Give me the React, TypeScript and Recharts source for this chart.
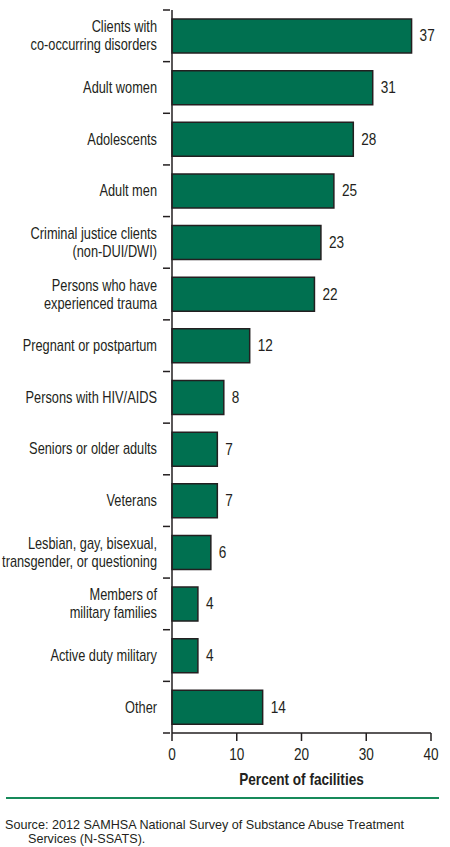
import React from 'react';
import { BarChart, Bar, XAxis, YAxis, LabelList } from 'recharts';

const categories = [
  'Clients with\nco-occurring disorders',
  'Adult women',
  'Adolescents',
  'Adult men',
  'Criminal justice clients\n(non-DUI/DWI)',
  'Persons who have\nexperienced trauma',
  'Pregnant or postpartum',
  'Persons with HIV/AIDS',
  'Seniors or older adults',
  'Veterans',
  'Lesbian, gay, bisexual,\ntransgender, or questioning',
  'Members of\nmilitary families',
  'Active duty military',
  'Other',
];
const percents = [37, 31, 28, 25, 23, 22, 12, 8, 7, 7, 6, 4, 4, 14];
const xTicks = [0, 10, 20, 30, 40];

const data = categories.map((name, i) => ({ name, value: percents[i] }));

const FONT = '"Liberation Sans", Arial, sans-serif';
const INK = '#231f20';
const SQUEEZE = 0.85; // fake a condensed face
const LABEL_SQUEEZE = 0.8;

// category label plus a small tick at the top edge of each band
const CategoryTick = (props: any) => {
  const { x, y, payload, index } = props;
  const half = payload && payload.offset ? payload.offset : 25.8;
  const lines = String(payload.value).split('\n');
  const axisX = x + 8;
  const start = -((lines.length - 1) * 18) / 2;
  return (
    <g>
      <line x1={axisX - 7} x2={axisX} y1={y - half} y2={y - half} stroke={INK} strokeWidth={1.5} />
      {index === categories.length - 1 && (
        <line x1={axisX - 7} x2={axisX} y1={y + half} y2={y + half} stroke={INK} strokeWidth={1.5} />
      )}
      <g transform={`translate(${x - 5},${y}) scale(${LABEL_SQUEEZE},1)`}>
        <text x={0} y={0} textAnchor="end" fontFamily={FONT} fontSize={16} fill={INK}>
          {lines.map((l, i) => (
            <tspan key={i} x={0} y={start + i * 18} dominantBaseline="central">
              {l}
            </tspan>
          ))}
        </text>
      </g>
    </g>
  );
};

const NumberTick = (props: any) => {
  const { x, y, payload } = props;
  return (
    <g transform={`translate(${x},${y + 12}) scale(${SQUEEZE},1)`}>
      <text x={0} y={0} textAnchor="middle" dominantBaseline="central" fontFamily={FONT} fontSize={16} fill={INK}>
        {payload.value}
      </text>
    </g>
  );
};

const ValueLabel = (props: any) => {
  const { x, y, width, height, value } = props;
  return (
    <g transform={`translate(${x + width + 8},${y + height / 2}) scale(${SQUEEZE},1)`}>
      <text x={0} y={0} textAnchor="start" dominantBaseline="central" fontFamily={FONT} fontSize={16} fill={INK}>
        {value}
      </text>
    </g>
  );
};

const AxisTitle = (props: any) => {
  const { viewBox } = props;
  const cx = viewBox.x + viewBox.width / 2;
  return (
    <g transform={`translate(${cx},${viewBox.y + 47}) scale(${SQUEEZE},1)`}>
      <text x={0} y={0} textAnchor="middle" dominantBaseline="central" fontFamily={FONT} fontSize={16} fontWeight="bold" fill={INK}>
        Percent of facilities
      </text>
    </g>
  );
};

export default function App() {
  return (
    <div style={{ position: 'relative', width: 450, height: 847, background: '#fff' }}>
      <style>{`body{margin:0}`}</style>
      <BarChart
        width={450}
        height={790}
        data={data}
        layout="vertical"
        margin={{ top: 10, right: 19, bottom: 0, left: 0 }}
      >
        <XAxis
          type="number"
          domain={[0, 40]}
          ticks={xTicks}
          height={57}
          stroke={INK}
          strokeWidth={1.5}
          tickSize={8}
          tick={<NumberTick />}
          label={<AxisTitle />}
        />
        <YAxis
          type="category"
          dataKey="name"
          width={172}
          stroke={INK}
          strokeWidth={1.5}
          tickLine={false}
          tickSize={8}
          tick={<CategoryTick />}
          interval={0}
        />
        <Bar dataKey="value" fill="#007050" stroke={INK} strokeWidth={1.5} barSize={34} isAnimationActive={false}>
          <LabelList dataKey="value" content={<ValueLabel />} />
        </Bar>
      </BarChart>
      <div style={{ position: 'absolute', left: 6, top: 797, width: 433, height: 2, background: '#178a5a' }} />
      <div
        style={{
          position: 'absolute',
          left: 5,
          top: 818,
          width: 410,
          boxSizing: 'border-box',
          paddingLeft: 23,
          textIndent: -23,
          fontFamily: FONT,
          fontSize: 12.6,
          lineHeight: '14px',
          color: INK,
        }}
      >
        Source: 2012 SAMHSA National Survey of Substance Abuse Treatment Services (N-SSATS).
      </div>
    </div>
  );
}
